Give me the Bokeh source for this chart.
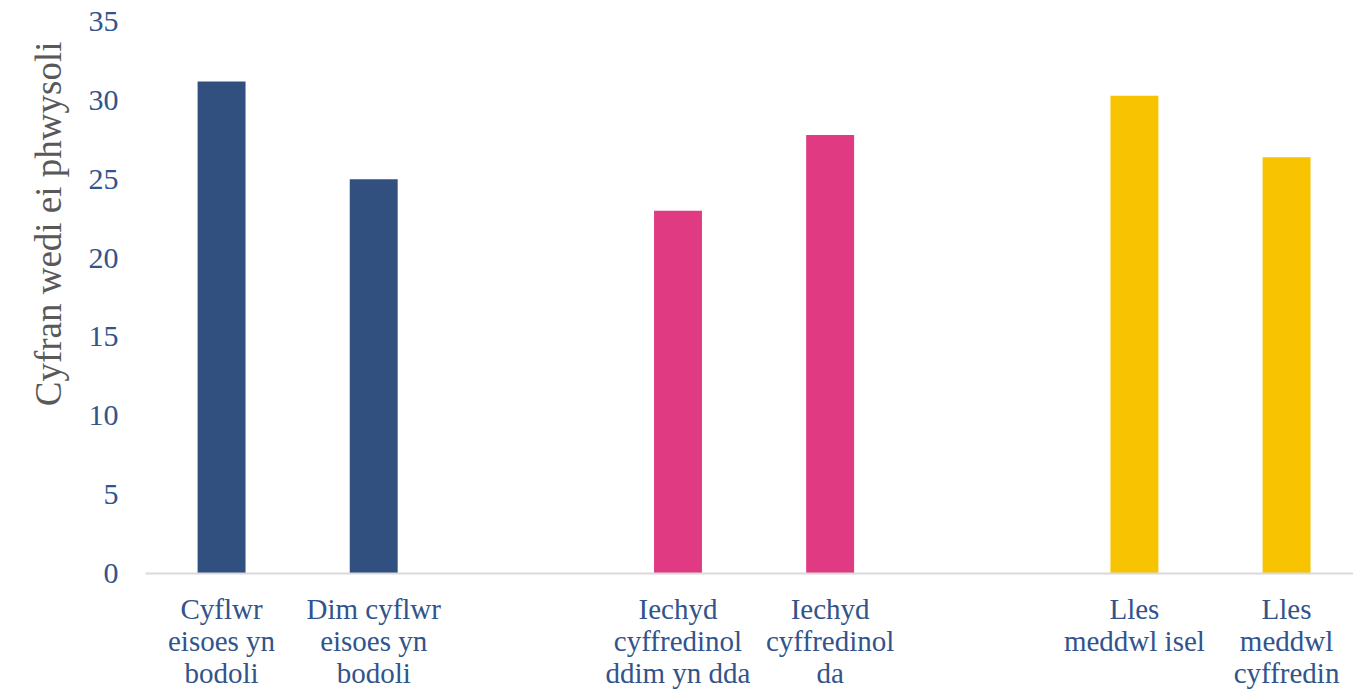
from bokeh.plotting import figure
from bokeh.models import Range1d, FixedTicker, Title
from bokeh.embed import file_html
from bokeh.resources import INLINE

categories = [
    "Cyflwr\neisoes yn\nbodoli",
    "Dim cyflwr\neisoes yn\nbodoli",
    "",
    "Iechyd\ncyffredinol\nddim yn dda",
    "Iechyd\ncyffredinol\nda",
    "",
    "Lles\nmeddwl isel",
    "Lles\nmeddwl\ncyffredin",
]
values = [31.2, 25.0, 23.0, 27.8, 30.3, 26.4]
colors = ["#31507F", "#31507F", "#E03A82", "#E03A82", "#F8C300", "#F8C300"]
y_ticks = [0, 5, 10, 15, 20, 25, 30, 35]
y_label = "Cyfran wedi ei phwysoli"

xs = [i for i, c in enumerate(categories) if c]
labels = [c for c in categories if c]

text_color = "#31548C"
font = "Liberation Serif"

p = figure(width=1353, height=691, output_backend="svg", toolbar_location=None,
           x_range=Range1d(-0.5, 7.44), y_range=Range1d(0, 35),
           min_border_left=145, min_border_right=0, min_border_top=21,
           min_border_bottom=117)
p.vbar(x=xs, top=values, width=0.315, color=colors, line_color=None)

p.outline_line_color = None
p.xgrid.grid_line_color = None
p.ygrid.grid_line_color = None

p.xaxis.ticker = FixedTicker(ticks=xs)
p.xaxis.major_label_overrides = {x: l for x, l in zip(xs, labels)}
p.xaxis.axis_line_color = "#D9D9D9"
p.xaxis.axis_line_width = 2
p.xaxis.major_tick_line_color = None
p.xaxis.minor_tick_line_color = None
p.xaxis.major_label_text_font = font
p.xaxis.major_label_text_font_size = "29px"
p.xaxis.major_label_text_color = text_color
p.xaxis.major_label_standoff = 13
p.xaxis.major_label_text_line_height = 1.0

p.yaxis.ticker = FixedTicker(ticks=y_ticks)
p.yaxis.axis_line_color = None
p.yaxis.major_tick_line_color = None
p.yaxis.minor_tick_line_color = None
p.yaxis.major_label_text_font = font
p.yaxis.major_label_text_font_size = "30px"
p.yaxis.major_label_text_color = text_color
p.yaxis.major_label_standoff = 21

ytitle = Title(text=y_label, align="right", offset=20, standoff=30,
               vertical_align="top",
               text_font=font, text_font_size="37px", text_font_style="normal",
               text_color="#595959")
p.add_layout(ytitle, "left")

open("out.html", "w").write(file_html(p, INLINE))
